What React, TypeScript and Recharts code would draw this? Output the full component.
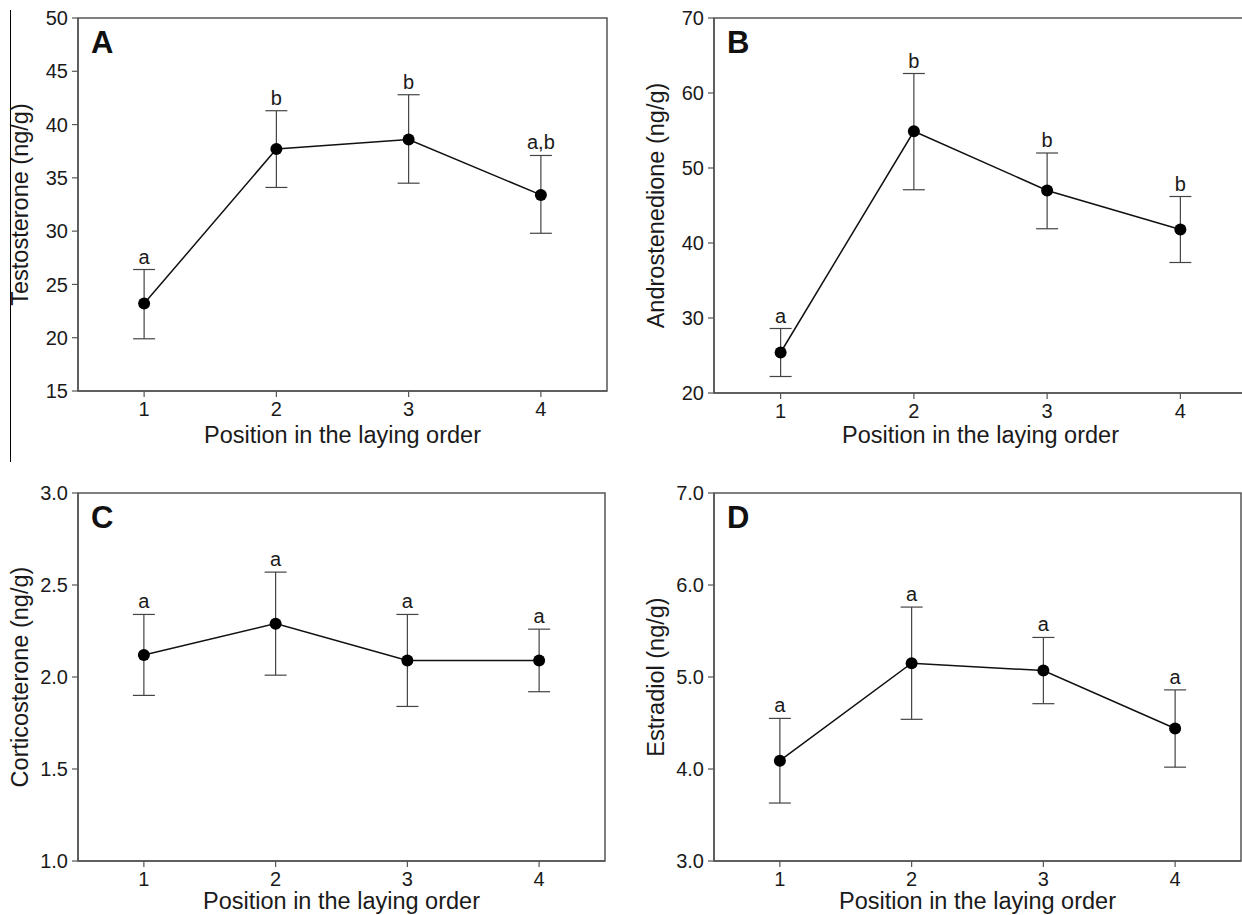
import React from 'react';
import { LineChart, Line, XAxis, YAxis, ErrorBar, ReferenceArea, LabelList } from 'recharts';

// laying order positions (x axis)
const positions = [1, 2, 3, 4];

// A - testosterone
const testosteroneMean = [23.2, 37.7, 38.6, 33.4];
const testosteroneUpper = [26.4, 41.3, 42.8, 37.1];
const testosteroneLower = [19.9, 34.1, 34.5, 29.8];
const testosteroneLetters = ['a', 'b', 'b', 'a,b'];

// B - androstenedione
const androMean = [25.4, 54.9, 47.0, 41.8];
const androUpper = [28.6, 62.6, 52.0, 46.2];
const androLower = [22.2, 47.1, 41.9, 37.4];
const androLetters = ['a', 'b', 'b', 'b'];

// C - corticosterone
const corticoMean = [2.12, 2.29, 2.09, 2.09];
const corticoUpper = [2.34, 2.57, 2.34, 2.26];
const corticoLower = [1.9, 2.01, 1.84, 1.92];
const corticoLetters = ['a', 'a', 'a', 'a'];

// D - estradiol
const estradiolMean = [4.09, 5.15, 5.07, 4.44];
const estradiolUpper = [4.55, 5.76, 5.43, 4.86];
const estradiolLower = [3.63, 4.54, 4.71, 4.02];
const estradiolLetters = ['a', 'a', 'a', 'a'];

const FONT = '"Liberation Sans", Arial, Helvetica, sans-serif';
const TEXT = '#1a1a1a';
const AXIS = '#555';

const build = (mean: number[], upper: number[], lower: number[], letters: string[]) =>
  positions.map((pos, i) => ({
    pos,
    mean: mean[i],
    upper: upper[i],
    err: [mean[i] - lower[i], upper[i] - mean[i]],
    letter: letters[i],
  }));

type PanelProps = {
  data: any[];
  yDomain: [number, number];
  yTicks: number[];
  decimals: number;
  yLabel: string;
  panel: string;
  left: number;
  top: number;
  height: number;
  right: number;
  xAxisHeight: number;
};

const Panel: React.FC<PanelProps> = ({ data, yDomain, yTicks, decimals, yLabel, panel, left, top, height, right, xAxisHeight }) => (
  <div style={{ position: 'absolute', left, top }}>
    <LineChart width={620} height={height} data={data} margin={{ top: 18, right, left: 0, bottom: 5 }}>
      <XAxis
        type="number"
        dataKey="pos"
        domain={[0.5, 4.5]}
        ticks={positions}
        allowDataOverflow
        height={xAxisHeight}
        tick={{ fontSize: 20, fill: TEXT, fontFamily: FONT }}
        tickSize={6}
        tickMargin={5}
        axisLine={{ stroke: AXIS, strokeWidth: 1.5 }}
        tickLine={{ stroke: AXIS, strokeWidth: 1.2 }}
        label={{ value: 'Position in the laying order', position: 'insideBottom', offset: 0, fontSize: 23.5, fill: TEXT, fontFamily: FONT }}
      />
      <YAxis
        type="number"
        domain={yDomain}
        ticks={yTicks}
        allowDataOverflow
        width={78}
        tickFormatter={(v: number) => v.toFixed(decimals)}
        tick={{ fontSize: 20, fill: TEXT, fontFamily: FONT }}
        tickSize={6}
        tickMargin={4}
        axisLine={{ stroke: AXIS, strokeWidth: 1.5 }}
        tickLine={{ stroke: AXIS, strokeWidth: 1.2 }}
        label={{ value: yLabel, angle: -90, position: 'insideLeft', offset: 20, fontSize: 23.5, fill: TEXT, fontFamily: FONT, style: { textAnchor: 'middle' } }}
      />
      <ReferenceArea
        x1={0.5}
        x2={4.5}
        y1={yDomain[0]}
        y2={yDomain[1]}
        fill="none"
        stroke={AXIS}
        strokeWidth={1.5}
        ifOverflow="visible"
        label={{ value: panel, position: 'insideTopLeft', offset: 13, fontSize: 31, fontWeight: 'bold', fill: '#111', fontFamily: FONT }}
      />
      <Line dataKey="upper" stroke="none" dot={false} activeDot={false} isAnimationActive={false} legendType="none">
        <LabelList dataKey="letter" position="top" offset={6} fontSize={20} fill={TEXT} fontFamily={FONT} />
      </Line>
      <Line
        dataKey="mean"
        stroke="#111"
        strokeWidth={1.5}
        dot={{ r: 6, fill: '#000', stroke: '#000', strokeWidth: 0 }}
        activeDot={false}
        isAnimationActive={false}
      >
        <ErrorBar dataKey="err" width={11} stroke="#444" strokeWidth={1.2} direction="y" />
      </Line>
    </LineChart>
  </div>
);

export default function App() {
  return (
    <div style={{ position: 'absolute', left: 0, top: 0, width: 1242, height: 915, overflow: 'hidden', background: '#fff', fontFamily: FONT }}>
      <div style={{ position: 'absolute', left: 10, top: 10, width: 1, height: 452, background: '#000' }} />
      <Panel
        data={build(testosteroneMean, testosteroneUpper, testosteroneLower, testosteroneLetters)}
        yDomain={[15, 50]}
        yTicks={[15, 20, 25, 30, 35, 40, 45, 50]}
        decimals={0}
        yLabel="Testosterone (ng/g)"
        panel="A"
        left={0}
        top={0}
        height={448}
        right={13}
        xAxisHeight={52}
      />
      <Panel
        data={build(androMean, androUpper, androLower, androLetters)}
        yDomain={[20, 70]}
        yTicks={[20, 30, 40, 50, 60, 70]}
        decimals={0}
        yLabel="Androstenedione (ng/g)"
        panel="B"
        left={636}
        top={0}
        height={448}
        right={9}
        xAxisHeight={50}
      />
      <Panel
        data={build(corticoMean, corticoUpper, corticoLower, corticoLetters)}
        yDomain={[1, 3]}
        yTicks={[1, 1.5, 2, 2.5, 3]}
        decimals={1}
        yLabel="Corticosterone (ng/g)"
        panel="C"
        left={0}
        top={475}
        height={439}
        right={15}
        xAxisHeight={48}
      />
      <Panel
        data={build(estradiolMean, estradiolUpper, estradiolLower, estradiolLetters)}
        yDomain={[3, 7]}
        yTicks={[3, 4, 5, 6, 7]}
        decimals={1}
        yLabel="Estradiol (ng/g)"
        panel="D"
        left={636}
        top={475}
        height={439}
        right={15}
        xAxisHeight={48}
      />
    </div>
  );
}
